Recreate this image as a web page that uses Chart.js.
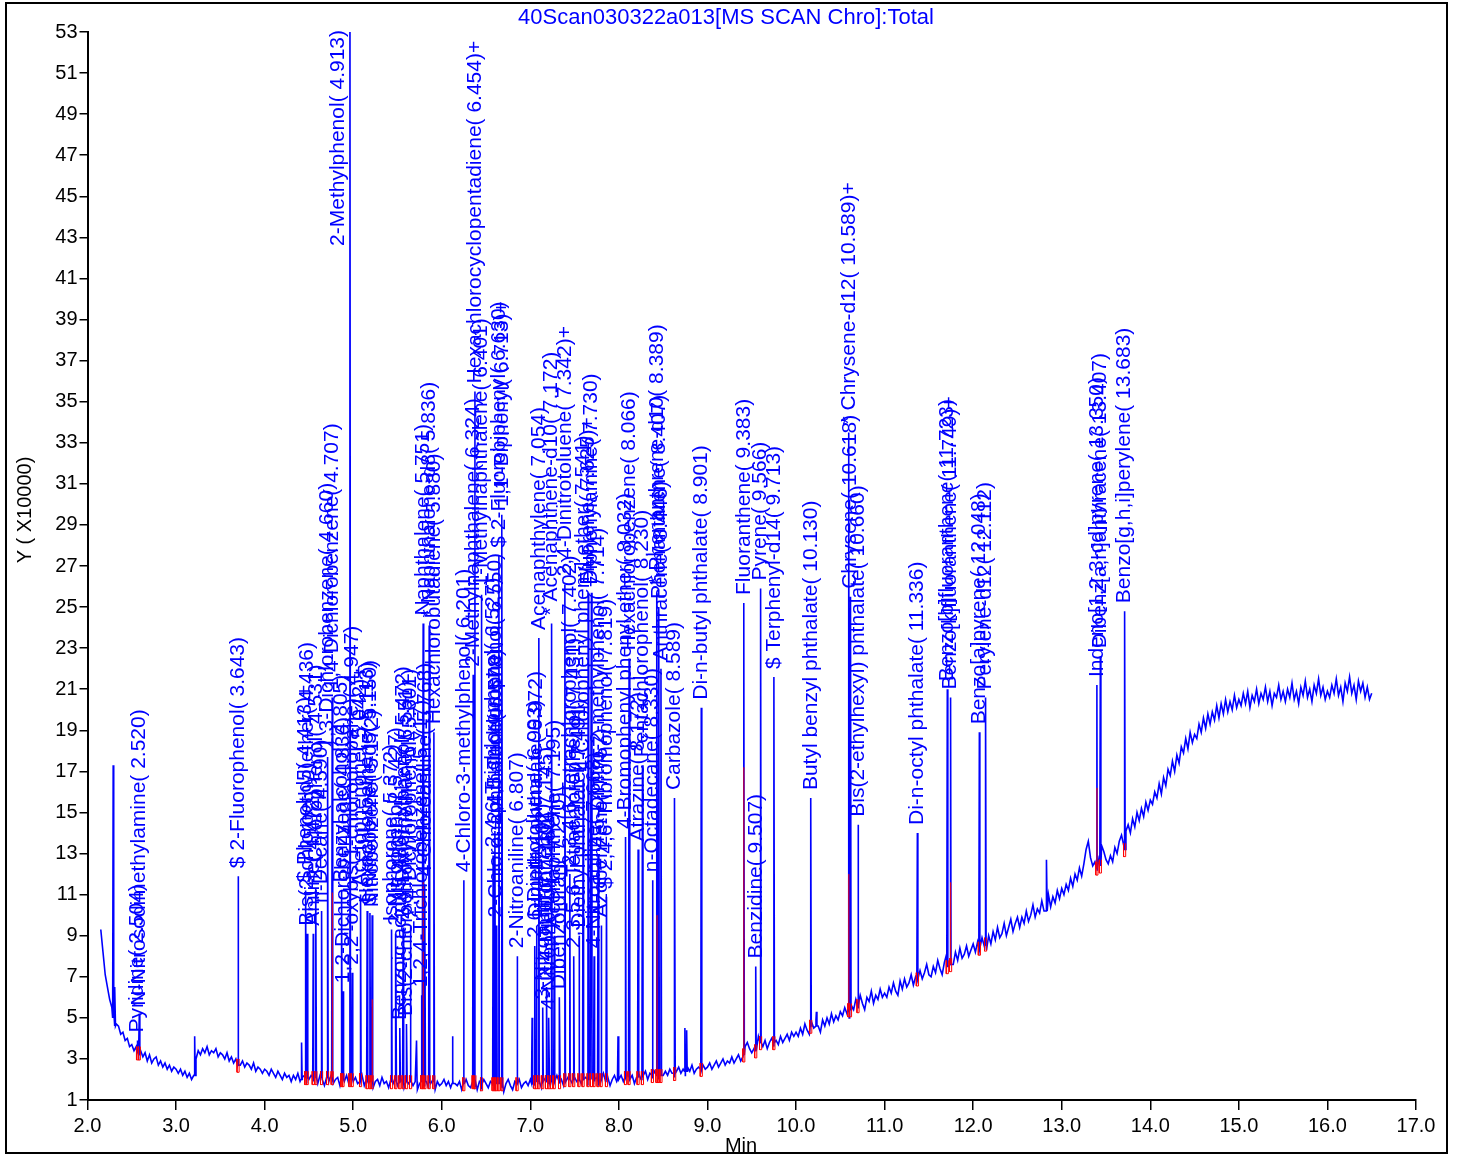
<!DOCTYPE html>
<html>
<head>
<meta charset="utf-8">
<script src="https://cdn.jsdelivr.net/npm/chart.js@4.4.0/dist/chart.umd.min.js"></script>
<style>
html, body { margin: 0; padding: 0; background: #fff; }
#wrap { width: 1459px; height: 1156px; }
</style>
</head>
<body>
<div id="wrap"><canvas id="chart" width="1459" height="1156"></canvas></div>
<script>
// TIC baseline, one reading every 0.025 min from 2.15 min (Y x10000)
const scanStart = 2.15;
const scanStep = 0.025;
const baseline = [
    9.3, 8.2, 7.1, 6.5, 5.9, 5.5, 5.1, 4.7, 4.6, 4.2, 4.3, 3.9, 4.0, 3.6, 3.7,
    3.4, 3.6, 3.2, 3.4, 3.1, 3.3, 2.9, 3.2, 2.8, 3.0, 3.1, 2.7, 2.9, 2.6, 2.8, 2.5, 2.7, 2.4, 2.6, 2.5,
    2.3, 2.5, 2.2, 2.4, 2.1, 2.3, 2.0, 2.2, 3.0, 3.4, 3.2, 3.5, 3.3, 3.6, 3.2, 3.4, 3.3, 3.5, 3.1, 3.3,
    3.2, 3.0, 3.3, 2.9, 3.1, 2.8, 3.0, 2.9, 2.7, 2.9, 2.6, 2.8, 2.7, 2.5, 2.8, 2.4, 2.6, 2.5, 2.3, 2.5,
    2.4, 2.2, 2.5, 2.3, 2.1, 2.4, 2.2, 2.0, 2.3, 2.1, 2.2, 1.9, 2.2, 2.0, 2.3, 1.9, 2.1, 2.2, 1.8, 2.0,
    2.2, 1.9, 2.1, 1.8, 2.2, 2.0, 1.7, 2.1, 1.9, 2.2, 1.8, 2.0, 2.1, 1.7, 2.0, 1.9, 2.2, 1.8, 2.0, 1.9,
    2.1, 1.8, 1.9, 2.2, 1.7, 2.0, 1.8, 2.1, 1.6, 1.9, 2.0, 1.7, 2.1, 1.8, 1.9, 1.6, 2.0, 1.8, 2.1, 1.7,
    1.9, 2.0, 1.6, 1.9, 1.8, 2.1, 1.7, 1.9, 1.5, 1.8, 2.0, 1.7, 1.9, 1.6, 1.8, 2.0, 1.5, 1.9, 1.7, 1.8,
    2.0, 1.7, 1.9, 1.6, 2.0, 1.8, 1.7, 1.9, 1.5, 1.8, 2.0, 1.7, 1.6, 1.9, 1.8, 1.5, 1.9, 1.7, 2.0, 1.8,
    1.6, 1.9, 1.7, 1.5, 1.8, 1.9, 1.6, 1.4, 1.8, 2.0, 1.7, 1.5, 1.9, 1.8, 2.0, 1.6, 1.8, 1.9, 1.7, 2.0,
    1.8, 1.7, 2.0, 1.8, 1.6, 1.9, 2.1, 1.8, 1.7, 2.0, 1.9, 2.2, 1.8, 2.0, 1.7, 1.9, 2.1, 2.0, 1.8, 2.1,
    1.9, 2.2, 1.8, 2.0, 2.1, 1.7, 2.0, 2.2, 1.9, 2.1, 1.8, 2.0, 2.3, 1.9, 2.1, 1.7, 2.0, 2.2, 1.9, 2.0,
    2.2, 1.9, 2.1, 2.3, 2.0, 2.2, 1.8, 2.1, 2.3, 2.0, 2.2, 2.4, 2.0, 2.3, 2.1, 2.4, 2.2, 2.0, 2.3, 2.2,
    2.4, 2.2, 2.5, 2.3, 2.1, 2.4, 2.6, 2.3, 2.5, 2.2, 2.6, 2.4, 2.7, 2.3, 2.5, 2.6, 2.4, 2.7, 2.5, 2.6,
    2.8, 2.5, 2.7, 2.9, 2.6, 2.8, 3.0, 2.7, 2.9, 2.8, 3.1, 2.8, 3.0, 3.2, 2.9, 3.1, 3.6, 3.8, 3.5, 3.3,
    3.5, 3.7, 4.1, 3.8, 3.6, 3.9, 3.5, 3.8, 4.0, 3.6, 3.9, 3.7, 4.1, 3.8, 4.0, 4.2, 3.9, 4.3, 4.1, 4.3,
    4.1, 4.5, 4.2, 4.7, 4.4, 4.2, 4.8, 4.5, 4.9, 4.6, 4.3, 4.9, 4.6, 5.0, 4.7, 5.2, 4.8, 5.1, 4.9, 5.3,
    5.1, 5.5, 5.2, 5.0, 5.6, 5.4, 5.9, 5.5, 6.1, 5.7, 5.4, 6.0, 5.8, 6.3, 5.7, 6.1, 5.9, 6.4, 6.0, 6.2,
    6.0, 6.5, 6.2, 6.7, 6.3, 6.1, 6.8, 6.4, 6.9, 6.5, 6.7, 7.1, 6.6, 7.0, 6.8, 7.3, 6.9, 7.2, 7.6, 7.1,
    7.0, 7.5, 7.2, 7.8, 7.4, 7.1, 7.7, 8.1, 7.5, 7.9, 7.6, 8.2, 7.8, 8.4, 7.9, 8.1, 8.5, 8.0, 8.3, 8.6,
    8.2, 8.7, 8.4, 8.9, 8.5, 8.3, 9.0, 8.6, 9.2, 8.8, 9.4, 8.9, 9.1, 9.6, 9.0, 9.4, 9.8, 9.2, 9.6, 9.9,
    9.4, 9.9, 9.6, 10.2, 9.7, 10.0, 10.5, 9.9, 10.3, 10.1, 10.7, 10.2, 10.6, 11.0, 10.4, 10.9, 10.6, 11.2, 10.8, 11.3,
    11.0, 11.5, 11.2, 11.8, 11.4, 12.0, 11.7, 12.3, 11.9, 12.5, 13.2, 13.6, 12.8, 12.4, 12.6, 12.2, 12.9, 13.4, 13.1, 12.7,
    12.5, 12.9, 12.6, 13.3, 13.0, 13.6, 13.9, 13.4, 14.1, 14.4, 14.0, 14.7, 14.3, 15.0, 14.6, 15.2, 14.8, 15.5, 15.1, 15.6,
    15.4, 16.0, 15.7, 16.4, 15.9, 16.7, 16.3, 17.1, 16.8, 17.5, 17.0, 17.8, 17.4, 18.2, 17.9, 18.6, 18.1, 18.9, 18.4, 18.8,
    18.6, 19.3, 18.9, 19.6, 19.1, 19.8, 19.3, 19.9, 19.5, 20.2, 19.6, 20.3, 19.8, 20.5, 19.9, 20.4, 20.0, 20.7, 20.1, 20.5,
    20.2, 20.8, 20.3, 20.9, 20.1, 20.7, 20.4, 21.0, 20.3, 20.8, 20.5, 21.1, 20.4, 20.9, 20.2, 20.8, 20.6, 21.2, 20.5, 20.9,
    20.4, 21.0, 20.6, 21.3, 20.5, 20.9, 20.3, 21.1, 20.7, 21.4, 20.6, 21.0, 20.4, 21.2, 20.8, 21.5, 20.7, 21.1, 20.5, 20.9,
    20.6, 21.2, 20.8, 21.5, 20.7, 21.1, 20.4, 21.3, 20.9, 21.6, 20.8, 21.2, 20.5, 21.4, 20.9, 21.3, 20.6, 21.1, 20.5, 20.8
];

// peaks: apex time (min), apex height, foot level, integrated (red) height
const peakTimes = [
    2.290, 2.310, 2.565, 2.585, 3.210, 3.700, 4.417, 4.463, 4.481, 4.549,
    4.579, 4.643, 4.711, 4.763, 4.869, 4.885, 4.963, 4.989, 5.083, 5.158,
    5.189, 5.214, 5.433, 5.482, 5.527, 5.564, 5.603, 5.648, 5.715, 5.772,
    5.790, 5.810, 5.858, 5.911, 6.122, 6.249, 6.355, 6.374, 6.449, 6.580,
    6.600, 6.620, 6.645, 6.680, 6.851, 7.020, 7.050, 7.070, 7.096, 7.140,
    7.183, 7.210, 7.240, 7.270, 7.330, 7.390, 7.446, 7.490, 7.550, 7.596,
    7.653, 7.690, 7.720, 7.765, 7.800, 7.860, 7.990, 8.075, 8.115, 8.217,
    8.266, 8.379, 8.430, 8.450, 8.475, 8.630, 8.745, 8.765, 8.930, 9.410,
    9.545, 9.600, 9.750, 10.166, 10.230, 10.595, 10.615, 10.700, 11.370, 11.708,
    11.745, 12.070, 12.140, 12.830, 13.397, 13.436, 13.710
];
const peakTops = [
    17.3, 6.5, 3.9, 5.2, 4.1, 11.9, 3.8, 11.2, 9.1, 9.1,
    11.3, 10.2, 17.7, 20.6, 11.2, 6.3, 60.0, 7.2, 11.0, 10.2,
    10.1, 10.0, 9.3, 9.1, 4.5, 9.4, 4.7, 9.5, 3.9, 6.1,
    24.2, 11.5, 24.1, 18.9, 4.1, 11.7, 21.7, 35.5, 25.6, 12.9,
    14.1, 9.5, 27.5, 29.5, 8.0, 5.0, 8.5, 9.5, 23.5, 5.5,
    6.5, 5.0, 24.2, 9.0, 6.0, 26.1, 12.0, 8.0, 9.0, 16.6,
    25.7, 25.7, 8.0, 12.9, 9.5, 10.9, 4.1, 13.8, 22.5, 13.2,
    17.3, 11.7, 25.7, 25.0, 22.0, 15.7, 4.5, 4.4, 20.1, 25.2,
    7.5, 25.9, 21.6, 15.7, 5.3, 33.5, 25.5, 14.4, 14.0, 21.0,
    20.6, 18.9, 20.6, 12.7, 21.2, 22.6, 24.8
];
const peakBases = [
    5.0, 4.6, 3.3, 3.3, 2.2, 2.7, 2.0, 2.1, 2.1, 2.1,
    2.1, 2.1, 2.1, 2.1, 2.0, 2.0, 2.0, 2.0, 2.0, 1.9,
    1.9, 1.9, 1.9, 1.9, 1.9, 1.9, 1.9, 1.9, 1.9, 1.9,
    1.9, 1.9, 1.9, 1.9, 1.8, 1.8, 1.9, 1.9, 1.8, 1.8,
    1.8, 1.8, 1.8, 1.8, 1.8, 1.8, 1.9, 1.9, 1.9, 1.9,
    1.9, 1.9, 1.9, 1.9, 1.9, 2.0, 2.0, 2.0, 2.0, 2.0,
    2.0, 2.0, 2.0, 2.0, 2.0, 2.0, 2.0, 2.1, 2.1, 2.1,
    2.1, 2.2, 2.2, 2.2, 2.2, 2.3, 2.4, 2.4, 2.5, 3.2,
    3.4, 3.8, 3.8, 4.6, 4.6, 5.4, 5.4, 5.6, 6.9, 7.5,
    7.6, 8.4, 8.6, 10.2, 12.3, 12.4, 13.2
];
const peakRed = [
    0, 0, 0, 0, 0, 0, 0, 0, 0, 0,
    0, 0, 0, 11.1, 0, 0, 0, 0, 0, 0,
    0, 5.9, 0, 0, 0, 0, 0, 0, 0, 0,
    11.6, 0, 0, 0, 0, 0, 0, 0, 0, 0,
    0, 0, 0, 0, 0, 0, 0, 0, 0, 0,
    0, 0, 0, 0, 0, 0, 0, 0, 0, 0,
    0, 0, 0, 0, 0, 0, 0, 0, 0, 0,
    0, 0, 10.0, 0, 0, 0, 0, 0, 0, 17.2,
    0, 0, 0, 0, 0, 12.0, 0, 0, 0, 0,
    11.6, 0, 0, 0, 16.2, 0, 0
];
const peakNames = [
    '', '', 'Pyridine( 2.504)', 'N-Nitrosodimethylamine( 2.520)', '',
    '$ 2-Fluorophenol( 3.643)', '', '$ Phenol-d5( 4.413)+', 'Bis(2-chloroethyl)ether( 4.436)', 'Aniline( 4.472)',
    '2-Chlorophenol( 4.531)', 'n-Decane( 4.590)', '1,3-Dichlorobenzene( 4.660)', '1,4-Dichlorobenzene( 4.707)', 'Benzyl alcohol( 4.805)',
    '1,2-Dichlorobenzene( 4.836)', '2-Methylphenol( 4.913)', "2,2'-oxybis(1-chloropropane)( 4.947)", 'Acetophenone( 5.042)+', 'Hexachloroethane( 5.113)',
    '$ Nitrobenzene-d5( 5.150)', 'Nitrobenzene( 5.172)', 'Isophorone( 5.372)', '2-Nitrophenol( 5.427)', 'Benzoic acid( 5.480)',
    '2,4-Dimethylphenol( 5.472)', 'Bis(2-chloroethoxy)methane( 5.551)', '2,4-Dichlorophenol( 5.601)', '', '1,2,4-Trichlorobenzene( 5.717)',
    'Naphthalene( 5.751)', '4-Chloroaniline( 5.768)', '* Naphthalene-d8( 5.836)', 'Hexachlorobutadiene( 5.880)', '',
    '4-Chloro-3-methylphenol( 6.201)', '2-Methylnaphthalene( 6.324)', 'Hexachlorocyclopentadiene( 6.454)+', '1-Methylnaphthalene( 6.401)', '2,4,6-Trichlorophenol( 6.527)',
    '2,4,5-Trichlorophenol( 6.550)', '2-Chloronaphthalene( 6.578)', '$ 2-Fluorobiphenyl( 6.630)', "1,1'-Biphenyl( 6.713)+", '2-Nitroaniline( 6.807)',
    '', '2,6-Dinitrotoluene( 6.993)', 'Dimethyl phthalate( 6.972)', 'Acenaphthylene( 7.054)', '3-Nitroaniline( 7.102)',
    '2,4-Dinitrophenol( 7.145)', '4-Nitrophenol( 7.160)', '* Acenaphthene-d10( 7.172)', 'Acenaphthene( 7.195)', 'Dibenzofuran( 7.270)',
    '2,4-Dinitrotoluene( 7.342)+', '2,3,4,6-Tetrachlorophenol( 7.402)', '2,3,5,6-Tetrachlorophenol( 7.431)', 'Diethyl phthalate( 7.491)', '4-Chlorophenyl phenyl ether( 7.541)',
    'Fluorene( 7.625)+', 'Diphenylamine( 7.730)', '4-Nitroaniline( 7.668)', '4,6-Dinitro-2-methylphenol( 7.714)', 'Azobenzene( 7.757)',
    '$ 2,4,6-Tribromophenol( 7.819)', '', '4-Bromophenyl phenyl ether( 8.032)', 'Hexachlorobenzene( 8.066)', 'Atrazine( 8.172)',
    'Pentachlorophenol( 8.230)', 'n-Octadecane( 8.330)', '* Phenanthrene-d10( 8.389)', 'Phenanthrene( 8.407)', 'Anthracene( 8.446)',
    'Carbazole( 8.589)', '', '', 'Di-n-butyl phthalate( 8.901)', 'Fluoranthene( 9.383)',
    'Benzidine( 9.507)', 'Pyrene( 9.566)', '$ Terphenyl-d14( 9.713)', 'Butyl benzyl phthalate( 10.130)', '',
    '* Chrysene-d12( 10.589)+', 'Chrysene( 10.618)', 'Bis(2-ethylhexyl) phthalate( 10.660)', 'Di-n-octyl phthalate( 11.336)', 'Benzo[b]fluoranthene( 11.723)',
    'Benzo[k]fluoranthene( 11.749)+', 'Benzo[a]pyrene( 12.048)', 'Perylene-d12( 12.112)', '', 'Indeno[1,2,3-cd]pyrene( 13.350)',
    'Dibenz[a,h]anthracene( 13.407)', 'Benzo[g,h,i]perylene( 13.683)'
];

const chartTitle = '40Scan030322a013[MS SCAN Chro]:Total';
const yTitle = 'Y ( X10000)';
const xTitle = 'Min';

const FONT = '"Liberation Sans", Arial, sans-serif';
const BLUE = '#0000ff';

// blue total ion trace: baseline readings plus each peak
const trace = [];
baseline.forEach((v, i) => trace.push({ x: +(scanStart + i * scanStep).toFixed(3), y: v }));
peakTimes.forEach((t, i) => {
    trace.push({ x: t - 0.006, y: peakBases[i] });
    trace.push({ x: t, y: peakTops[i] });
    trace.push({ x: t + 0.006, y: peakBases[i] });
});
trace.sort((a, b) => a.x - b.x);

// red integration marks under each identified peak
const redMarks = [];
peakTimes.forEach((t, i) => {
    if (!peakNames[i]) return;
    const b = peakBases[i];
    redMarks.push({ x: t - 0.012, y: b + 0.3 }, { x: t - 0.012, y: b - 0.35 },
                  { x: t + 0.012, y: b - 0.35 }, { x: t + 0.012, y: b + 0.3 }, { x: t + 0.012, y: null });
    if (peakRed[i]) {
        redMarks.push({ x: t + 0.001, y: b }, { x: t + 0.001, y: peakRed[i] }, { x: t + 0.001, y: null });
    }
});

// rotated compound names above peaks
const peakLabels = {
    id: 'peakLabels',
    afterDatasetsDraw(chart) {
        const { ctx, chartArea, scales } = chart;
        ctx.save();
        ctx.font = '21px ' + FONT;
        ctx.fillStyle = BLUE;
        ctx.textAlign = 'left';
        ctx.textBaseline = 'middle';
        peakNames.forEach((name, i) => {
            if (!name) return;
            const px = scales.x.getPixelForValue(peakTimes[i]);
            const w = ctx.measureText(name).width;
            let start = scales.y.getPixelForValue(peakTops[i]) - 8;
            let cx = px;
            if (start < chartArea.top) cx = px - 12;
            if (start - w < chartArea.top - 2) start = chartArea.top - 2 + w;
            ctx.save();
            ctx.translate(cx, start);
            ctx.rotate(-Math.PI / 2);
            ctx.fillText(name, 0, 0);
            ctx.restore();
        });
        ctx.restore();
    }
};

// title, axis titles and the outer frame
const decorations = {
    id: 'decorations',
    afterDraw(chart) {
        const ctx = chart.ctx;
        ctx.save();
        ctx.fillStyle = BLUE;
        ctx.font = '22px ' + FONT;
        ctx.textAlign = 'center';
        ctx.textBaseline = 'middle';
        ctx.fillText(chartTitle, 726, 18);

        ctx.fillStyle = '#000';
        ctx.font = '20px ' + FONT;
        ctx.fillText(xTitle, 741, 1146);
        ctx.translate(25, 510);
        ctx.rotate(-Math.PI / 2);
        ctx.fillText(yTitle, 0, 0);
        ctx.restore();

        ctx.save();
        ctx.strokeStyle = '#000';
        ctx.lineWidth = 2;
        ctx.strokeRect(6, 3, 1441, 1150);
        ctx.restore();
    }
};

new Chart(document.getElementById('chart'), {
    type: 'line',
    data: {
        datasets: [
            {
                data: redMarks,
                borderColor: '#ff0000',
                borderWidth: 1,
                pointRadius: 0,
                spanGaps: false,
                order: 0
            },
            {
                data: trace,
                borderColor: BLUE,
                borderWidth: 1.6,
                pointRadius: 0,
                tension: 0,
                order: 1
            }
        ]
    },
    options: {
        responsive: false,
        animation: false,
        devicePixelRatio: 1,
        layout: { padding: { top: 32, right: 43, left: 0, bottom: 0 } },
        plugins: { legend: { display: false }, tooltip: { enabled: false }, title: { display: false } },
        scales: {
            x: {
                type: 'linear',
                min: 2,
                max: 17,
                afterFit: s => { s.height = 56; },
                ticks: {
                    stepSize: 1,
                    color: '#000',
                    padding: 4,
                    font: { family: FONT, size: 20 },
                    maxRotation: 0,
                    callback: v => v.toFixed(1)
                },
                grid: { drawOnChartArea: false, drawTicks: true, tickLength: 10, color: '#000', lineWidth: 1.5 },
                border: { display: true, color: '#000', width: 2 }
            },
            y: {
                type: 'linear',
                min: 1,
                max: 53,
                afterFit: s => { s.width = 87.5; },
                ticks: {
                    stepSize: 2,
                    color: '#000',
                    padding: 2,
                    font: { family: FONT, size: 20 }
                },
                grid: { drawOnChartArea: false, drawTicks: true, tickLength: 8, color: '#000', lineWidth: 1.5 },
                border: { display: true, color: '#000', width: 2 }
            }
        }
    },
    plugins: [peakLabels, decorations]
});
</script>
</body>
</html>
